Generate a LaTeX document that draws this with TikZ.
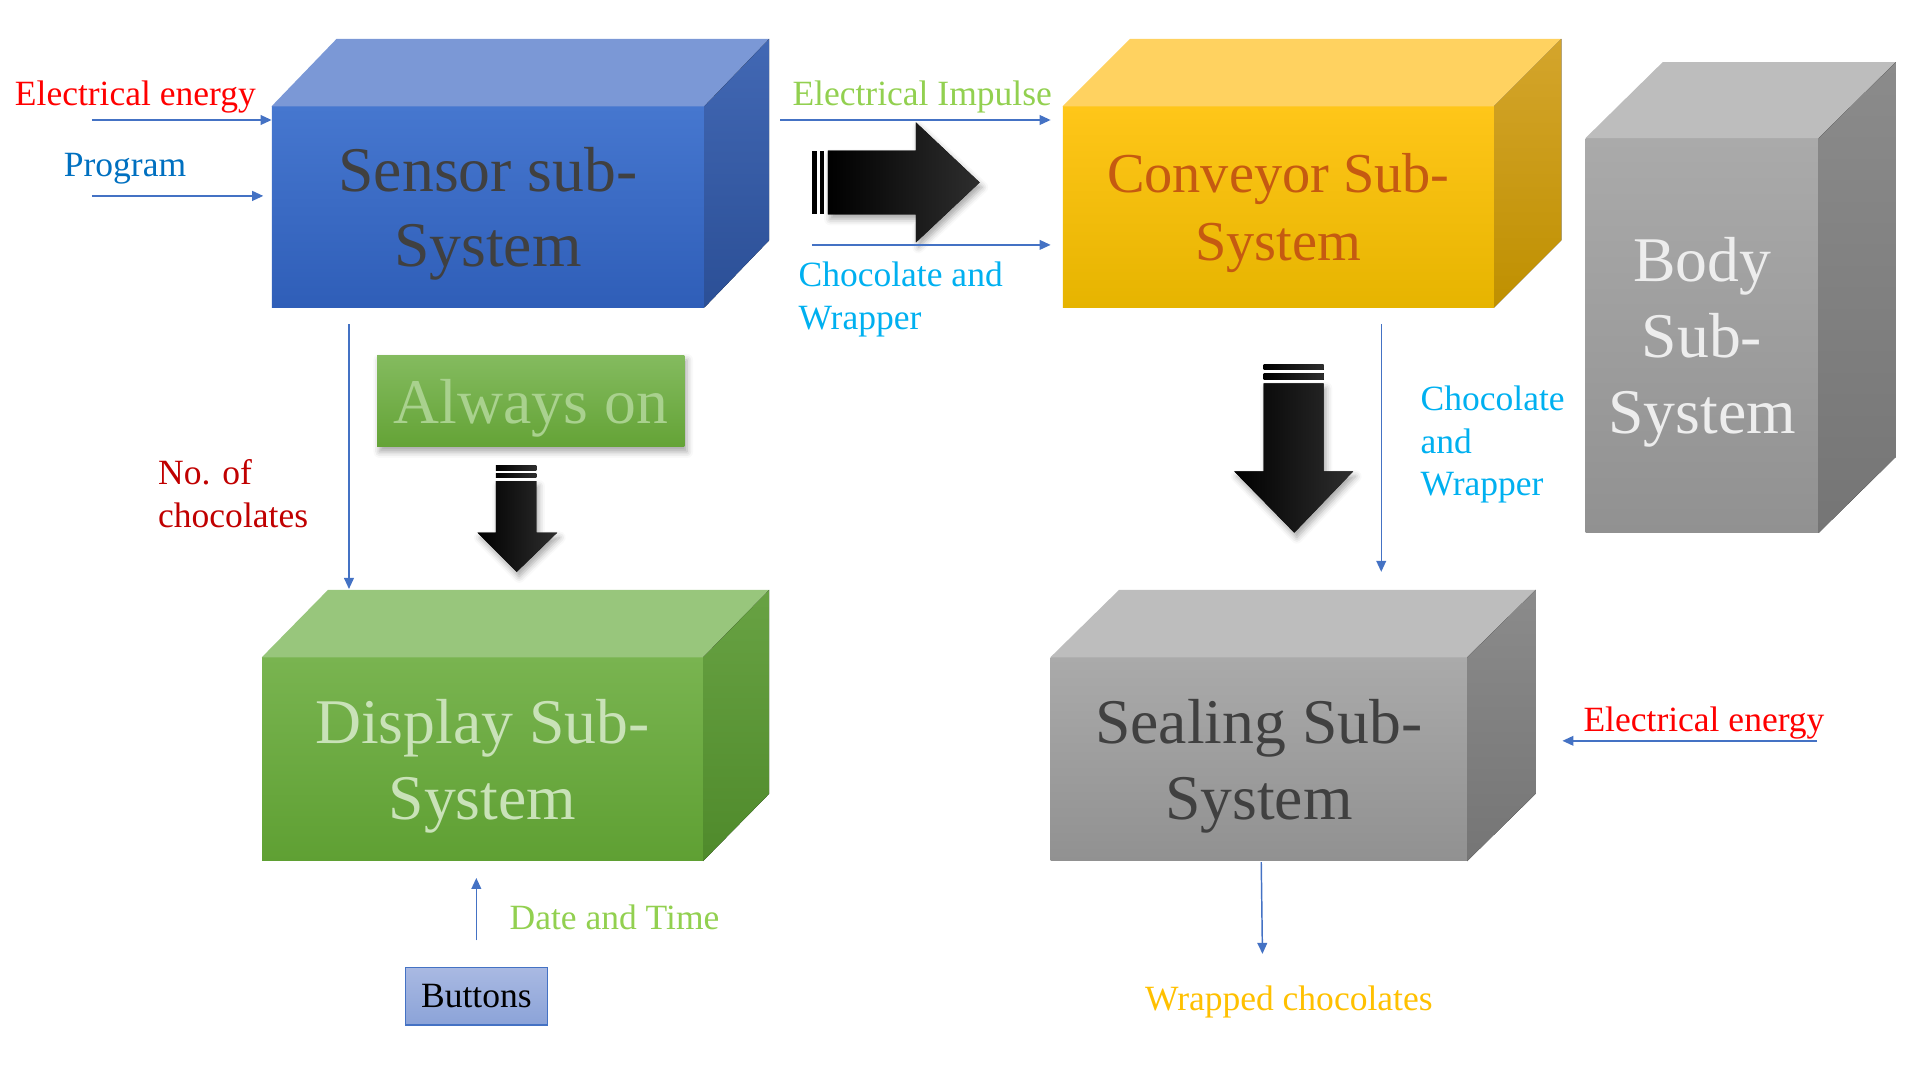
\documentclass[tikz,border=0pt]{standalone}
\usepackage{fontspec}
\setmainfont{Liberation Serif}
\usetikzlibrary{arrows.meta,positioning,calc,backgrounds,shadows.blur}

\definecolor{lineblue}{HTML}{4472C4}
\definecolor{elecred}{HTML}{FF0000}
\definecolor{progblue}{HTML}{0070C0}
\definecolor{limegreen}{HTML}{92D050}
\definecolor{skyblue}{HTML}{00B0F0}
\definecolor{darkred}{HTML}{C00000}
\definecolor{gold}{HTML}{FFC000}
\definecolor{inkgrey}{HTML}{404040}
% faces of the boxes
\definecolor{sensorA}{HTML}{4677CF}
\definecolor{sensorB}{HTML}{2F5EB8}
\definecolor{sensorTop}{HTML}{7B98D6}
\definecolor{sensorS1}{HTML}{4268B4}
\definecolor{sensorS2}{HTML}{2B4F96}
\definecolor{convA}{HTML}{FFC619}
\definecolor{convB}{HTML}{E6B400}
\definecolor{convTop}{HTML}{FFD260}
\definecolor{convS1}{HTML}{D4A52C}
\definecolor{convS2}{HTML}{BF9000}
\definecolor{convText}{HTML}{C55A11}
\definecolor{dispA}{HTML}{79B450}
\definecolor{dispB}{HTML}{5FA033}
\definecolor{dispTop}{HTML}{98C67C}
\definecolor{dispS1}{HTML}{68A243}
\definecolor{dispS2}{HTML}{4F8A2B}
\definecolor{dispText}{HTML}{C9E2B8}
\definecolor{greyA}{HTML}{AAAAAA}
\definecolor{greyB}{HTML}{919191}
\definecolor{greyTop}{HTML}{BDBDBD}
\definecolor{greyS1}{HTML}{8B8B8B}
\definecolor{greyS2}{HTML}{757575}
\definecolor{alwaysA}{HTML}{84BB5F}
\definecolor{alwaysB}{HTML}{64A336}
\definecolor{alwaysText}{HTML}{A9D18E}
\definecolor{buttonA}{HTML}{A9B9E2}
\definecolor{buttonB}{HTML}{8BA3D8}

\begin{document}
\begin{tikzpicture}[x=1pt, y=-1pt,
    face/.style={rectangle, inner sep=0pt, align=center, text depth=0pt, font=\fontsize{52}{62}\selectfont},
    lbl/.style={inner sep=0pt, anchor=west, align=left, text depth=0pt, font=\fontsize{29}{35}\selectfont},
    flow/.style={-{Triangle[length=9pt, width=8pt]}, line width=1.2pt, lineblue},
    blk/.style={left color=black, right color=black!82!white},
    soft/.style={blur shadow={shadow xshift=2pt, shadow yshift=-4pt, shadow blur radius=5pt, shadow opacity=35}}
]
\useasboundingbox (0,0) rectangle (1568,882);

% front faces
\node[face, minimum width=353pt, minimum height=164pt, top color=sensorA, bottom color=sensorB, text=inkgrey] (sensor) at (398.5,169) {Sensor sub-\\System};
\node[face, minimum width=352pt, minimum height=164pt, top color=convA, bottom color=convB, text=convText, font=\fontsize{46}{55}\selectfont] (conveyor) at (1044,169) {Conveyor Sub-\\System};
\node[face, minimum width=190pt, minimum height=322pt, top color=greyA, bottom color=greyB, text=white!93!black] (body) at (1390,274) {Body\\Sub-\\System};
\node[face, minimum width=360pt, minimum height=166pt, top color=dispA, bottom color=dispB, text=dispText] (display) at (394,620) {Display Sub-\\System};
\node[face, minimum width=340pt, minimum height=166pt, top color=greyA, bottom color=greyB, text=inkgrey] (sealing) at (1028,620) {Sealing Sub-\\System};

% top and side faces
\foreach \n/\dx/\dy/\tc/\sa/\sb in {sensor/53/55/sensorTop/sensorS1/sensorS2, conveyor/55/55/convTop/convS1/convS2, body/63/62/greyTop/greyS1/greyS2, display/54/55/dispTop/dispS1/dispS2, sealing/56/55/greyTop/greyS1/greyS2}{
    \fill[\tc] (\n.north west) -- ($(\n.north west)+(\dx,-\dy)$) -- ($(\n.north east)+(\dx,-\dy)$) -- (\n.north east) -- cycle;
    \fill[top color=\sa, bottom color=\sb] (\n.north east) -- ($(\n.north east)+(\dx,-\dy)$) -- ($(\n.south east)+(\dx,-\dy)$) -- (\n.south east) -- cycle;
    \begin{scope}[on background layer]
        \path[soft] (\n.south west) -- (\n.north west) -- ($(\n.north west)+(\dx,-\dy)$) -- ($(\n.north east)+(\dx,-\dy)$) -- ($(\n.south east)+(\dx,-\dy)$) -- (\n.south east) -- cycle;
    \end{scope}
}

\node[face, soft, minimum width=251pt, minimum height=75pt, top color=alwaysA, bottom color=alwaysB, text=alwaysText] (always) at (433.5,327.5) {Always on};
\node[draw=lineblue, line width=1pt, inner sep=0pt, minimum width=116pt, minimum height=47pt, top color=buttonA, bottom color=buttonB, font=\fontsize{29}{35}\selectfont] (buttons) at (389,813.5) {Buttons};

% block arrows
\fill[blk, soft] (676,123) -- (748,123) -- (748,100) -- (800,149) -- (748,198) -- (748,175) -- (676,175) -- cycle;
\fill (663,123) rectangle (667,175);
\fill (670,123) rectangle (673,175);
\fill[blk, soft] (405,393) -- (438,393) -- (438,435) -- (455,435) -- (422,467) -- (390,435) -- (405,435) -- cycle;
\fill[blk] (405,380) rectangle (438,384);
\fill[blk] (405,387) rectangle (438,390);
\fill[blk, soft] (1032,313) -- (1081,313) -- (1081,385) -- (1105,385) -- (1057,435) -- (1008,385) -- (1032,385) -- cycle;
\fill[blk] (1032,298) rectangle (1081,302);
\fill[blk] (1032,305) rectangle (1081,310);

% free ends of the connectors
\coordinate (elecsrc) at (75,98);
\coordinate (progsrc) at (75,160);
\coordinate (progend) at (215,160);
\coordinate (impsrc) at (637,98);
\coordinate (impend) at (858,98);
\coordinate (chocsrc) at (663,200);
\coordinate (chocend) at (858,200);
\coordinate (countsrc) at (285,265);
\coordinate (countend) at (285,481);
\coordinate (wrapsrc) at (1128,265);
\coordinate (wrapend) at (1128,467);
\coordinate (powersrc) at (1484,605);
\coordinate (powerend) at (1276,605);
\coordinate (outsrc) at (1030,704);
\coordinate (outend) at (1031,779);
\coordinate (btnsrc) at (389,768);
\coordinate (btnend) at (389,717);

\draw[flow] (elecsrc) -- (elecsrc -| sensor.west);
\draw[flow] (progsrc) -- (progend);
\draw[flow] (impsrc) -- (impend);
\draw[flow] (chocsrc) -- (chocend);
\draw[flow] (countsrc) -- (countend);
\draw[flow] (wrapsrc) -- (wrapend);
\draw[flow] (powersrc) -- (powerend);
\draw[flow] (outsrc) -- (outend);
\draw[flow] (btnsrc) -- (btnend);

% labels
\node[lbl, elecred] (elecin) at (12,76) {Electrical energy};
\node[lbl, progblue] (progin) at (52,135) {Program};
\node[lbl, limegreen] (impulse) at (647,76) {Electrical Impulse};
\node[lbl, skyblue] (chocin) at (652,241.5) {Chocolate and\\Wrapper};
\node[lbl, darkred] (count) at (129,403) {No. of\\chocolates};
\node[lbl, skyblue] (chocwrap) at (1160,360) {Chocolate\\and\\Wrapper};
\node[lbl, limegreen] (datetime) at (416,749) {Date and Time};
\node[lbl, elecred] (power) at (1293,587) {Electrical energy};
\node[lbl, gold] (wrapped) at (935,815) {Wrapped chocolates};
\end{tikzpicture}
\end{document}
